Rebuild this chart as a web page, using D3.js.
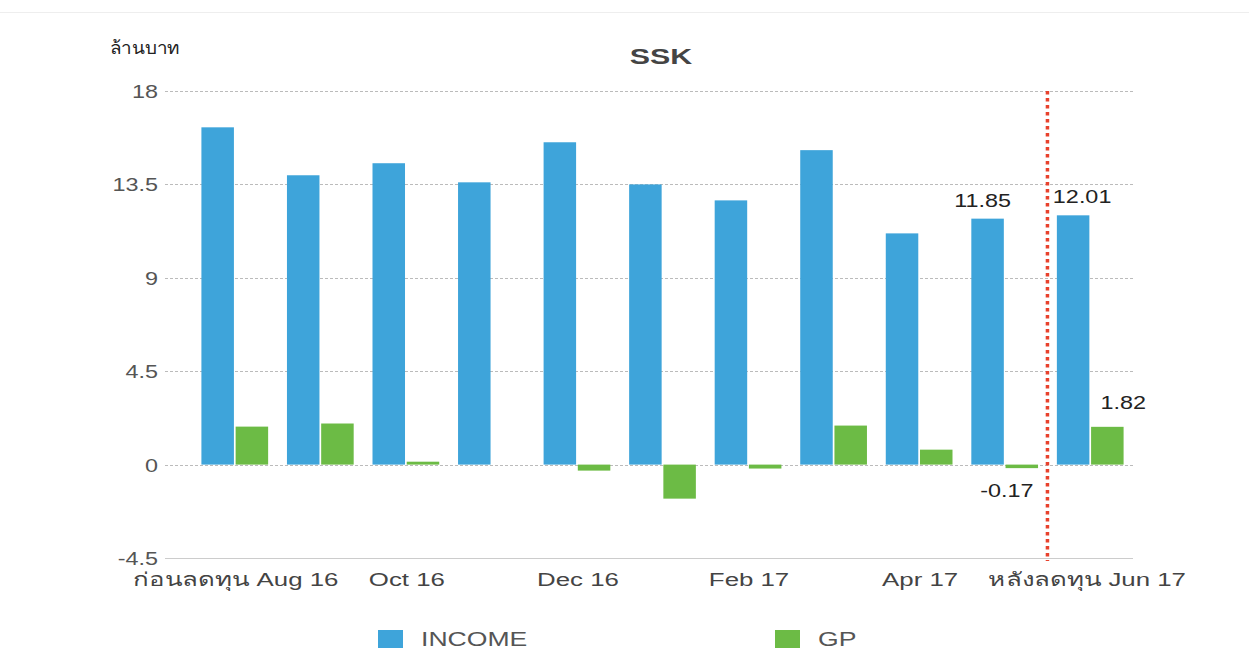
<!DOCTYPE html>
<html><head><meta charset="utf-8">
<script src="https://cdn.jsdelivr.net/npm/d3@7"></script>
<style>body{margin:0;background:#fff;font-family:"Liberation Sans",Arial,sans-serif;}</style>
</head><body><svg id="c" width="1249" height="670"></svg>
<script>
const categories = ["Aug 16","Sep 16","Oct 16","Nov 16","Dec 16","Jan 17","Feb 17","Mar 17","Apr 17","May 17","Jun 17"];
const tickLabels = {"Aug 16":"ก่อนลดทุน Aug 16","Oct 16":"Oct 16","Dec 16":"Dec 16","Feb 17":"Feb 17","Apr 17":"Apr 17","Jun 17":"หลังลดทุน Jun 17"};
const income = [16.25, 13.94, 14.52, 13.6, 15.53, 13.5, 12.73, 15.15, 11.14, 11.85, 12.01];
const gp = [1.83, 1.98, 0.14, 0, -0.29, -1.64, -0.19, 1.88, 0.72, -0.17, 1.82];
const yTicks = [-4.5, 0, 4.5, 9, 13.5, 18];
const seriesNames = ["INCOME","GP"];
const colors = ["#3ea4da","#6cbb45"];
const labelled = {"INCOME":["May 17","Jun 17"],"GP":["May 17","Jun 17"]};

(function(){
const svg = d3.select("#c");
const SX = 1.3;
function stext(parent, tx, ty, str, opts){
  const g = parent.append("g").attr("transform",`translate(${tx},${ty}) scale(${opts.sx||SX},1)`);
  g.append("text").attr("text-anchor",opts.anchor||"start").attr("font-size",opts.size||18)
   .attr("font-weight",opts.weight||"normal").attr("fill",opts.fill||"#444").text(str);
  return g;
}
const pl = 192, pr = 1133, pt = 91, pb = 558;
const x = d3.scaleBand().domain(categories).range([pl, pr]).paddingInner(0.22).paddingOuter(0.11);
const xs = d3.scaleBand().domain(seriesNames).range([0, x.bandwidth()]).paddingInner(0.05);
const y = d3.scaleLinear().domain([-4.5, 18]).range([pb, pt]);

svg.append("line").attr("x1",0).attr("x2",1249).attr("y1",12.5).attr("y2",12.5).attr("stroke","#eee");

// grid
svg.append("g").selectAll("line").data(yTicks).join("line")
  .attr("x1",165).attr("x2",pr).attr("y1",d=>Math.round(y(d))+0.5).attr("y2",d=>Math.round(y(d))+0.5)
  .attr("stroke",d=>d===-4.5?"#ccc":"#bbb").attr("stroke-width",1)
  .attr("stroke-dasharray",d=>d===-4.5?null:"3,2");

// y ticks
const yg = svg.append("g");
yTicks.forEach(d=>stext(yg,158,y(d)+7,d,{anchor:"end",size:18,fill:"#555"}));

// bars
const series = [income, gp];
const labelDx = {"INCOME":{"May 17":-5,"Jun 17":9},"GP":{"May 17":-15,"Jun 17":16}};
series.forEach((vals,si)=>{
  const name = seriesNames[si];
  svg.append("g").selectAll("rect").data(vals.map((v,i)=>({v,c:categories[i]}))).join("rect")
    .attr("x",d=>x(d.c)+xs(name))
    .attr("width",xs.bandwidth())
    .attr("y",d=>y(Math.max(0,d.v)))
    .attr("height",d=>Math.abs(y(d.v)-y(0)))
    .attr("fill",colors[si]);
  const lg = svg.append("g");
  vals.forEach((v,i)=>{
    const c = categories[i];
    if(!labelled[name].includes(c)) return;
    const lx = x(c)+xs(name)+xs.bandwidth()/2 + (labelDx[name][c]||0);
    const ly = v>=0 ? (si===0? y(v)-12 : y(v)-18) : y(v)+29;
    stext(lg, lx, ly, v.toFixed(2), {anchor:"middle",size:18,fill:"#222"});
  });
});

// red dotted line between May and Jun
const sepX = (x("May 17")+x.bandwidth() + x("Jun 17"))/2;
svg.append("line").attr("x1",sepX).attr("x2",sepX).attr("y1",pt).attr("y2",pb+3)
  .attr("stroke","#e8412c").attr("stroke-width",3.5).attr("stroke-dasharray","3.5,3.5");

// x labels
const xg = svg.append("g");
categories.filter(c=>tickLabels[c]).forEach(c=>
  stext(xg, x(c)+x.bandwidth()/2 + (c==="Jun 17"?-3:1), 586, tickLabels[c], {anchor:"middle",size:19,fill:"#444",sx:1.36}));

// title
stext(svg, 661, 64, "SSK", {anchor:"middle",size:22,weight:"bold",fill:"#444",sx:1.38});
stext(svg, 110, 54, "ล้านบาท", {anchor:"start",size:18,fill:"#222",sx:1.05});

// legend
const legX = [378, 775];
seriesNames.forEach((n,i)=>{
  svg.append("rect").attr("x",legX[i]).attr("y",630).attr("width",25).attr("height",18).attr("fill",colors[i]);
  stext(svg, legX[i]+43, 646, n, {anchor:"start",size:20,fill:"#555",sx:1.33});
});
})();
</script></body></html>
